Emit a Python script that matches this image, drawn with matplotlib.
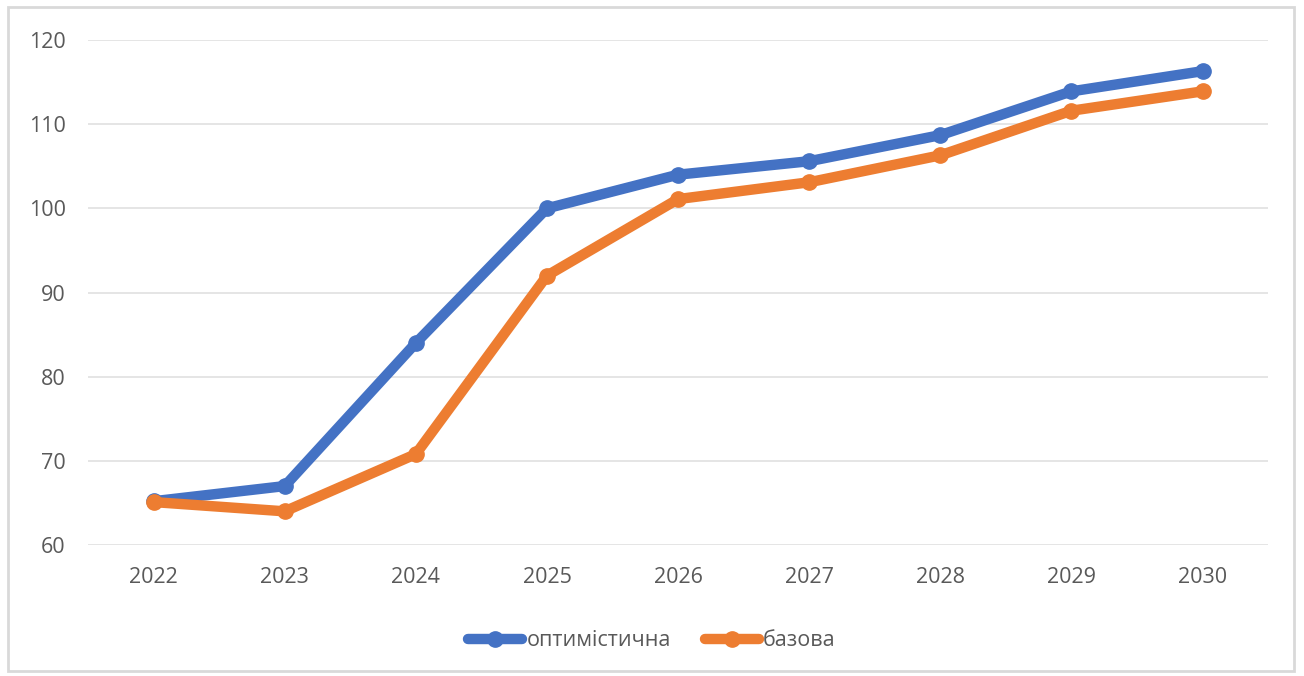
import matplotlib.pyplot as plt
from matplotlib.patches import Rectangle

years = ['2022', '2023', '2024', '2025', '2026', '2027', '2028', '2029', '2030']
optimistic = [65.2, 67.0, 84.0, 100.0, 104.0, 105.6, 108.7, 113.9, 116.3]
base = [65.1, 64.0, 70.8, 92.0, 101.1, 103.1, 106.3, 111.6, 113.9]
y_ticks = [60, 70, 80, 90, 100, 110, 120]

plt.rcParams['font.family'] = ['Open Sans', 'DejaVu Sans']

fig = plt.figure(figsize=(13.04, 6.76), dpi=100)
ax = fig.add_axes([0.0675, 0.1938, 0.905, 0.747])

# outer chart border
fig.patches.append(Rectangle((0.006, 0.008), 0.986, 0.982, transform=fig.transFigure,
                             fill=False, edgecolor='#D9D9D9', linewidth=2))

x = list(range(len(years)))
ax.plot(x, optimistic, color='#4472C4', linewidth=7.5, marker='o', markersize=11,
        solid_capstyle='round', label='оптимістична', zorder=3)
ax.plot(x, base, color='#ED7D31', linewidth=7.5, marker='o', markersize=11,
        solid_capstyle='round', label='базова', zorder=4)

ax.set_xlim(-0.5, len(years) - 0.5)
ax.set_ylim(60, 120)
ax.set_yticks(y_ticks)
ax.set_xticks(x)
ax.set_xticklabels(years)
ax.tick_params(axis='both', length=0, labelsize=15.5, labelcolor='#595959')
ax.tick_params(axis='x', pad=16)
ax.tick_params(axis='y', pad=16)
ax.grid(axis='y', color='#E0E0E0', linewidth=1.2)
ax.set_axisbelow(True)
for s in ax.spines.values():
    s.set_visible(False)

leg = fig.legend(loc='center', bbox_to_anchor=(0.5, 0.052), ncol=2, frameon=False,
                 fontsize=15.5, handlelength=2.5, columnspacing=1.6, handletextpad=0.2)
for t in leg.get_texts():
    t.set_color('#595959')

fig.savefig('out.png', dpi=100)
